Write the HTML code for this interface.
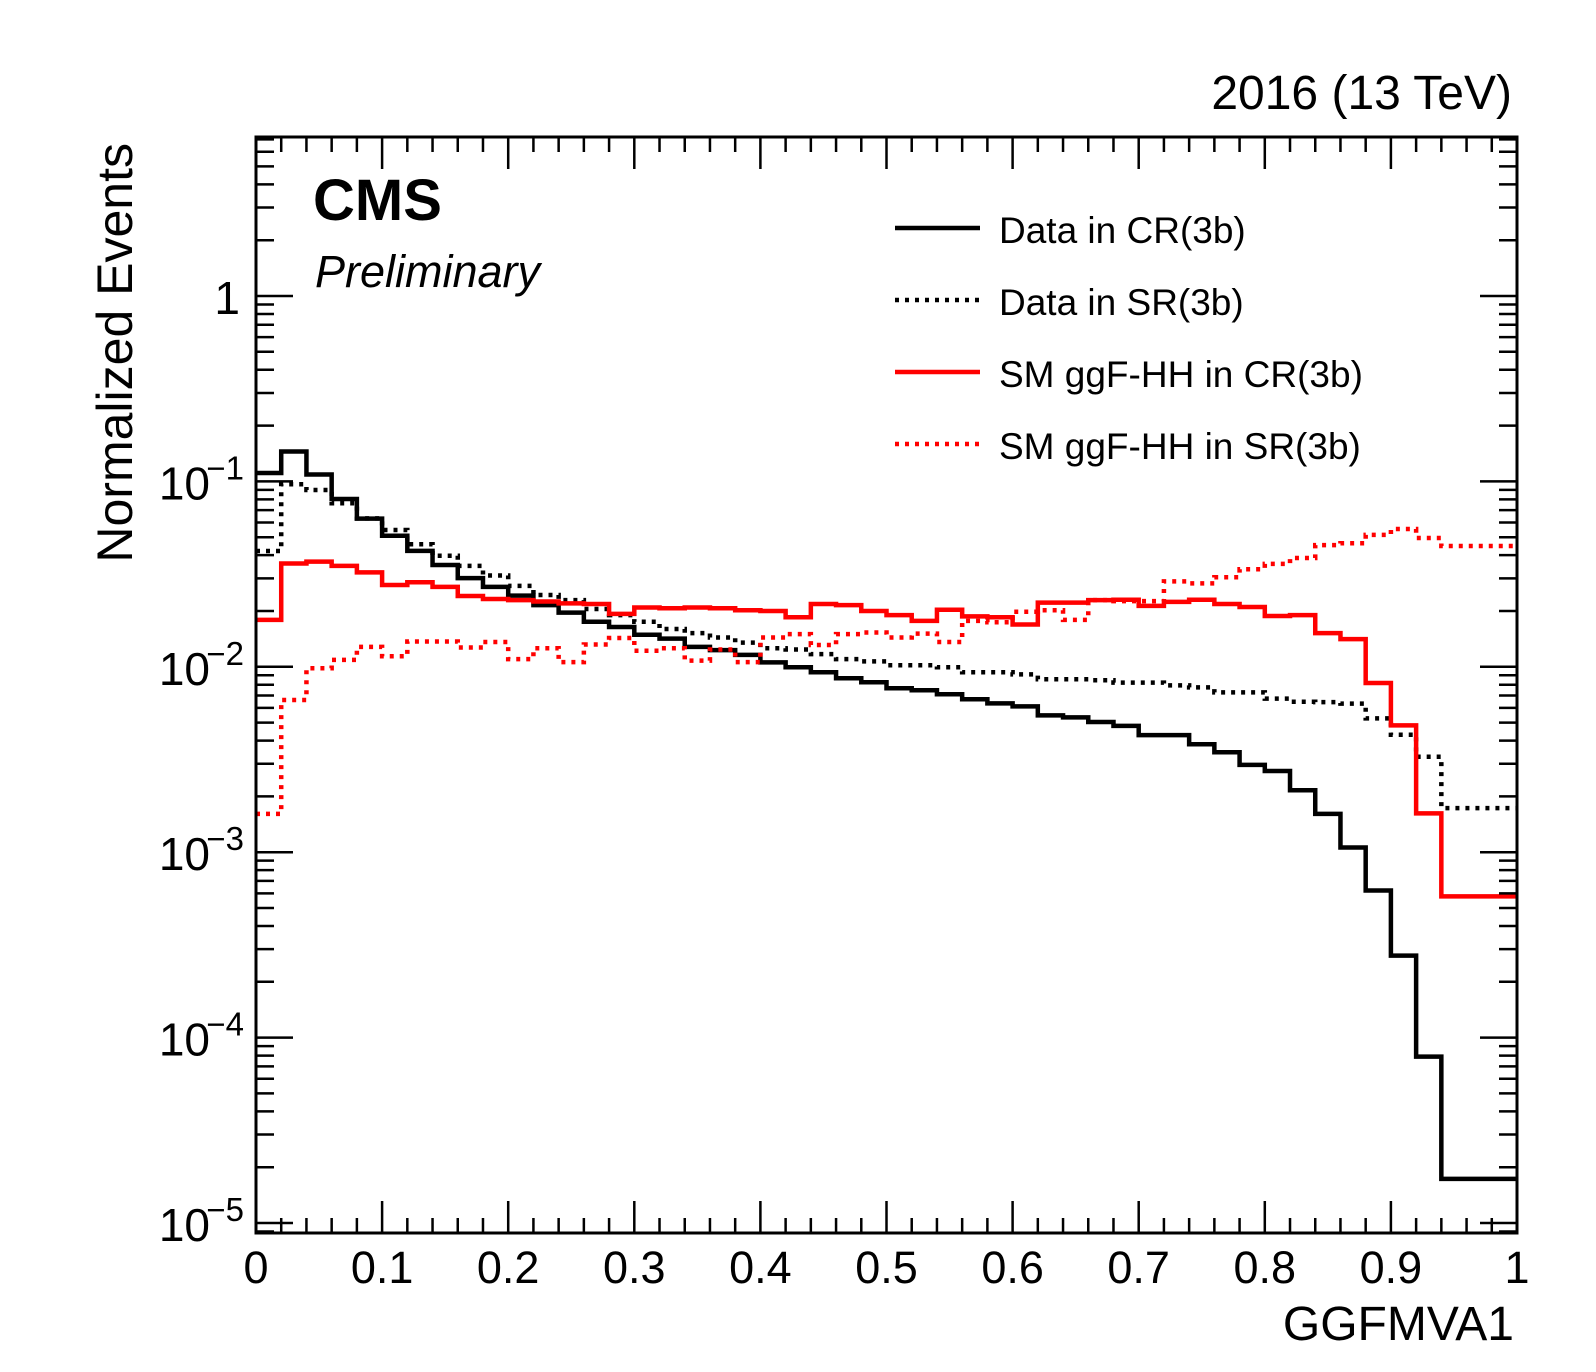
<!DOCTYPE html>
<html>
<head>
<meta charset="utf-8">
<style>
html,body{margin:0;padding:0;background:#fff;}
svg{display:block;font-family:"Liberation Sans",Arial,sans-serif;}
</style>
</head>
<body>
<svg id="chart" width="1596" height="1372" viewBox="0 0 1596 1372" xmlns="http://www.w3.org/2000/svg">
  <rect width="1596" height="1372" fill="#fff"/>
  <g id="marks"></g>
  <g id="axes"></g>
  <rect x="256" y="137" width="1261" height="1096" fill="none" stroke="#000" stroke-width="3"/>
  <text x="1512" y="109" font-size="48" text-anchor="end">2016 (13 TeV)</text>
  <text x="313" y="220" font-size="58" font-weight="bold">CMS</text>
  <text x="315" y="287" font-size="45" font-style="italic">Preliminary</text>
  <text x="1514" y="1340" font-size="48" text-anchor="end">GGFMVA1</text>
  <text transform="translate(132,143) rotate(-90)" font-size="50" text-anchor="end">Normalized Events</text>
  <g id="legend"></g>
</svg>
<script>
const edges0 = 0, binWidth = 0.02;
const dataCR = [0.111,0.145,0.109,0.0804,0.0630,0.0509,0.0422,0.0354,0.0301,0.0270,
 0.0242,0.0215,0.0196,0.0175,0.0164,0.0149,0.0142,0.0128,0.0123,0.0116,
 0.01057,0.00994,0.00934,0.00867,0.00825,0.00766,0.00747,0.00711,0.00668,0.00635,
 0.00612,0.00547,0.00534,0.00504,0.00480,0.00428,0.00428,0.00382,0.00346,0.00296,
 0.00274,0.00216,0.00161,0.00106,0.000621,0.000277,0.0000789,0.0000173,0.0000173,0.0000173];
const dataSR = [0.0421,0.0965,0.0899,0.0762,0.0632,0.0547,0.0458,0.0397,0.0350,0.0311,
 0.0273,0.0244,0.0229,0.0205,0.0190,0.0175,0.0160,0.0152,0.0144,0.0135,
 0.0126,0.0124,0.0117,0.0110,0.0107,0.0102,0.0102,0.00994,0.00934,0.00934,
 0.00910,0.00857,0.00857,0.00846,0.00821,0.00821,0.00794,0.00774,0.00728,0.00728,
 0.00673,0.00648,0.00645,0.00633,0.00527,0.00430,0.00327,0.00173,0.00173,0.00173];
const hhCR = [0.0179,0.0361,0.0369,0.0350,0.0323,0.0276,0.0286,0.0270,0.0241,0.0232,
 0.0229,0.0225,0.0220,0.0218,0.0193,0.0209,0.0207,0.0209,0.0207,0.0202,
 0.0200,0.0185,0.0218,0.0215,0.0200,0.0190,0.0177,0.0203,0.0187,0.0185,
 0.0169,0.0222,0.0222,0.0229,0.0230,0.0213,0.0224,0.0230,0.0218,0.0210,
 0.0188,0.0190,0.0152,0.0141,0.00818,0.00483,0.00162,0.000578,0.000578,0.000578];
const hhSR = [0.00161,0.00662,0.00982,0.0109,0.0128,0.0114,0.0137,0.0137,0.0127,0.0136,
 0.0110,0.0126,0.0106,0.0132,0.0143,0.0122,0.0126,0.0108,0.0124,0.0106,
 0.0144,0.0150,0.0131,0.0150,0.0153,0.0144,0.0151,0.0136,0.0177,0.0174,
 0.0198,0.0202,0.0179,0.0229,0.0226,0.0226,0.0289,0.0282,0.0304,0.0336,
 0.0359,0.0386,0.0453,0.0464,0.0515,0.0554,0.0495,0.0448,0.0448,0.0448];
const xTickLabels = ["0","0.1","0.2","0.3","0.4","0.5","0.6","0.7","0.8","0.9","1"];
const yDecades = [-5,-4,-3,-2,-1,0];
const legendLabels = ["Data in CR(3b)","Data in SR(3b)","SM ggF-HH in CR(3b)","SM ggF-HH in SR(3b)"];

const NS = "http://www.w3.org/2000/svg";
const X0 = 256, X1 = 1517, YTOP = 137, YBOT = 1233;
const Y_ONE = 296, DEC = 185.4;
const xScale = v => X0 + v * (X1 - X0);
const yScale = v => Y_ONE - Math.log10(v) * DEC;
function mk(tag, attrs, parent) {
  const el = document.createElementNS(NS, tag);
  for (const k in attrs) el.setAttribute(k, attrs[k]);
  parent.appendChild(el);
  return el;
}
const marks = document.getElementById('marks');
const axes = document.getElementById('axes');

function stepPath(vals) {
  let d = "";
  vals.forEach((v, i) => {
    const xa = xScale(edges0 + i * binWidth), xb = xScale(edges0 + (i + 1) * binWidth);
    const y = Math.min(yScale(v), YBOT);
    d += (i === 0 ? "M" + xa + "," + y : "L" + xa + "," + y) + "L" + xb + "," + y;
  });
  return d;
}
const series = [
  {vals: dataCR, color: "#000", dash: null, name: "series-data-cr"},
  {vals: dataSR, color: "#000", dash: "4 6", name: "series-data-sr"},
  {vals: hhCR, color: "#ff0000", dash: null, name: "series-hh-cr"},
  {vals: hhSR, color: "#ff0000", dash: "4 6", name: "series-hh-sr"}
];
series.forEach(s => {
  const p = mk('path', {d: stepPath(s.vals), fill: "none", stroke: s.color, "stroke-width": 4.5}, marks);
  if (s.dash) p.setAttribute('stroke-dasharray', s.dash);
  
  
});

for (let i = 0; i <= 50; i++) {
  const x = xScale(i * binWidth);
  const major = i % 5 === 0;
  const len = major ? 32 : 15;
  const t1 = mk('line', {x1: x, x2: x, y1: YBOT, y2: YBOT - len, stroke: "#000", "stroke-width": 2.5}, axes);
  
  
  const t2 = mk('line', {x1: x, x2: x, y1: YTOP, y2: YTOP + len, stroke: "#000", "stroke-width": 2.5}, axes);
  
  
}
xTickLabels.forEach((lab, i) => {
  const t = mk('text', {x: xScale(i * 0.1), y: 1283, "font-size": 45, "text-anchor": "middle"}, axes);
  t.textContent = lab;
  
  
});
for (let e = -6; e <= 1; e++) {
  for (let m = 1; m <= 9; m++) {
    const y = yScale(m * Math.pow(10, e));
    if (y < YTOP - 0.5 || y > YBOT + 0.5) continue;
    const len = m === 1 ? 37 : 18;
    const a = mk('line', {x1: X0, x2: X0 + len, y1: y, y2: y, stroke: "#000", "stroke-width": 2.5}, axes);
    
    
    const b = mk('line', {x1: X1, x2: X1 - len, y1: y, y2: y, stroke: "#000", "stroke-width": 2.5}, axes);
    
    
  }
}
yDecades.forEach(e => {
  const y = yScale(Math.pow(10, e));
  const t = mk('text', {x: e === 0 ? 240 : 210, y: y + 18, "font-size": 46, "text-anchor": "end"}, axes);
  
  
  if (e === 0) { t.textContent = "1"; }
  else {
    t.textContent = "10";
    const s = mk('tspan', {x: 244, y: y - 2, "font-size": 33, "text-anchor": "end"}, t);
    s.textContent = "\u2212" + (-e);
  }
});
const leg = document.getElementById('legend');
series.forEach((s, i) => {
  const y = 228 + i * 72;
  const l = mk('line', {x1: 895, x2: 980, y1: y, y2: y, stroke: s.color, "stroke-width": 4.5}, leg);
  if (s.dash) l.setAttribute('stroke-dasharray', s.dash);
  
  
  const t = mk('text', {x: 999, y: y + 15, "font-size": 37}, leg);
  t.textContent = legendLabels[i];
  
  
});
</script>
</body>
</html>
